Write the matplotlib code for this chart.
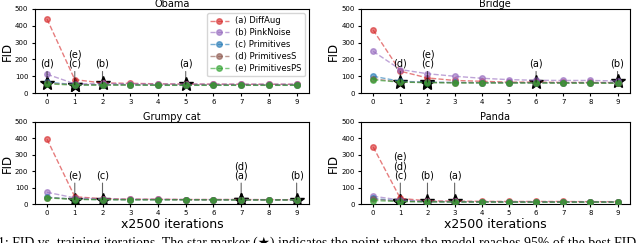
import matplotlib.pyplot as plt

iters = list(range(10))
labels = ["(a) DiffAug", "(b) PinkNoise", "(c) Primitives", "(d) PrimitivesS", "(e) PrimitivesPS"]
colors = ["tab:red", "tab:purple", "tab:blue", "tab:brown", "tab:green"]

obama = [
    [440, 80, 60, 58, 55, 53, 53, 52, 52, 52],
    [112, 55, 57, 55, 54, 54, 53, 53, 53, 53],
    [65, 50, 50, 50, 48, 48, 48, 48, 48, 48],
    [58, 50, 49, 49, 48, 48, 48, 48, 48, 48],
    [55, 47, 47, 47, 46, 46, 46, 46, 46, 46],
]
bridge = [
    [375, 130, 90, 75, 70, 65, 65, 63, 63, 62],
    [248, 140, 115, 100, 88, 80, 76, 75, 75, 72],
    [100, 70, 65, 63, 62, 62, 62, 62, 62, 62],
    [85, 65, 63, 62, 61, 61, 61, 60, 60, 60],
    [78, 65, 62, 60, 60, 60, 60, 59, 59, 58],
]
grumpy = [
    [395, 45, 33, 30, 30, 28, 28, 28, 27, 27],
    [72, 38, 32, 30, 30, 28, 28, 28, 27, 27],
    [42, 30, 28, 27, 27, 27, 26, 26, 26, 26],
    [40, 30, 28, 27, 27, 27, 26, 26, 26, 26],
    [38, 28, 27, 26, 26, 26, 26, 25, 25, 25],
]
panda = [
    [348, 35, 20, 18, 17, 16, 16, 16, 15, 15],
    [48, 25, 18, 16, 15, 15, 15, 14, 14, 14],
    [35, 18, 15, 14, 14, 13, 13, 13, 13, 13],
    [30, 17, 15, 14, 13, 13, 13, 13, 13, 13],
    [22, 15, 14, 13, 13, 12, 12, 12, 12, 12],
]

# star index for each series (a..e)
obama_star = [5, 2, 1, 0, 1]
bridge_star = [6, 9, 2, 1, 2]
grumpy_star = [7, 9, 2, 7, 1]
panda_star = [3, 2, 1, 1, 1]

panels = [
    ("Obama", obama, obama_star, [0.054, 0.617, 0.429, 0.346]),
    ("Bridge", bridge, bridge_star, [0.564, 0.617, 0.42, 0.346]),
    ("Grumpy cat", grumpy, grumpy_star, [0.054, 0.16, 0.429, 0.338]),
    ("Panda", panda, panda_star, [0.564, 0.16, 0.42, 0.338]),
]
tags = ["(a)", "(b)", "(c)", "(d)", "(e)"]

fig = plt.figure(figsize=(6.4, 2.43), dpi=100)

for i, (name, data, stars, pos) in enumerate(panels):
    ax = fig.add_axes(pos)
    for k in range(5):
        ax.plot(iters, data[k], linestyle="--", marker="o", color=colors[k],
                alpha=0.6, markersize=4, linewidth=1, label=labels[k], zorder=3)
    # stars + annotations grouped by x
    groups = {}
    for k in range(5):
        s = stars[k]
        ax.plot(iters[s], data[k][s], marker="*", markersize=10, color="black",
                markeredgecolor="black", linestyle="none", zorder=2.5)
        groups.setdefault(s, []).append(k)
    for s, ks in groups.items():
        ytop = max(data[k][s] for k in ks)
        txt = "\n".join(tags[k] for k in sorted(ks, reverse=True))
        ax.annotate(txt, xy=(iters[s], ytop), xytext=(iters[s], 145),
                    ha="center", va="bottom", fontsize=7, linespacing=0.9,
                    arrowprops=dict(arrowstyle="-", color="black", lw=0.8, alpha=0.6,
                                    shrinkA=0, shrinkB=0))
    ax.set_ylim(0, 500)
    ax.set_yticks([0, 100, 200, 300, 400, 500])
    ax.set_xticks(iters)
    ax.tick_params(labelsize=5, length=2.5, pad=2)
    ax.set_title(name, fontsize=7, pad=1.5)
    ax.set_ylabel("FID", fontsize=8.5, labelpad=1)
    if i >= 2:
        ax.set_xlabel("x2500 iterations", fontsize=9, labelpad=1)
    if i == 0:
        ax.legend(fontsize=6, loc="upper right", borderpad=0.4, labelspacing=0.35,
                  handlelength=2.2)

fig.text(-0.003, 0.0, "1: FID vs. training iterations. The star marker (\u2605) indicates the point where the model reaches 95% of the best FID",
         fontsize=9.9, family=["Liberation Serif", "DejaVu Sans"], va="center", ha="left")

fig.savefig("out.png", dpi=100)
